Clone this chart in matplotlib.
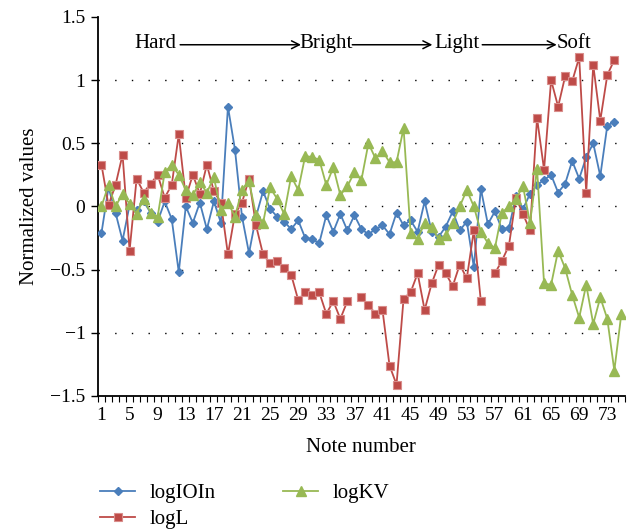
import numpy as np
import matplotlib
matplotlib.use("Agg")
import matplotlib.pyplot as plt
from matplotlib.ticker import FixedLocator, FuncFormatter

plt.rcParams['font.family'] = ['Liberation Serif', 'DejaVu Serif']
plt.rcParams['mathtext.fontset'] = 'stix'

nan = np.nan

# values (note numbers 1..75)
log_ioi = [-0.21, 0.15, -0.05, -0.27, 0.01, -0.03, 0.04, -0.05, -0.12, 0.04,
           -0.10, -0.52, 0.00, -0.13, 0.03, -0.18, 0.04, -0.13, 0.79, 0.45,
           -0.08, -0.37, -0.08, 0.12, -0.02, -0.08, -0.12, -0.18, -0.11, -0.25,
           -0.26, -0.29, -0.07, -0.20, -0.06, -0.19, -0.07, -0.18, -0.22, -0.18,
           -0.15, -0.22, -0.05, -0.15, -0.11, -0.20, 0.04, -0.20, -0.24, -0.16,
           -0.04, -0.19, -0.12, -0.48, 0.14, -0.14, -0.04, -0.18, -0.17, 0.08,
           -0.02, 0.10, 0.17, 0.21, 0.25, 0.11, 0.18, 0.36, 0.22, 0.39,
           0.50, 0.24, 0.64, 0.67]

log_l = [0.33, 0.01, 0.17, 0.41, -0.35, 0.22, 0.11, 0.18, 0.25, 0.07,
         0.17, 0.57, 0.07, 0.25, 0.10, 0.33, 0.12, 0.03, -0.38, -0.06,
         0.03, 0.22, -0.15, -0.38, -0.45, -0.43, -0.49, -0.54, -0.74, -0.68,
         -0.70, -0.68, -0.85, -0.75, -0.89, -0.75, nan, -0.72, -0.78, -0.85,
         -0.82, -1.26, -1.41, -0.73, -0.68, -0.53, -0.82, -0.61, -0.46, -0.53,
         -0.63, -0.46, -0.57, -0.19, -0.75, nan, -0.53, -0.43, -0.31, 0.07,
         -0.06, -0.19, 0.70, 0.29, 1.00, 0.79, 1.03, 0.99, 1.18, 0.11,
         1.12, 0.68, 1.04, 1.16]

log_kv = [0.00, 0.17, 0.00, 0.10, 0.02, -0.06, 0.06, -0.05, -0.08, 0.27,
          0.33, 0.25, 0.13, 0.09, 0.19, 0.11, 0.23, -0.03, 0.03, -0.08,
          0.13, 0.20, -0.07, -0.13, 0.15, 0.06, -0.06, 0.24, 0.13, 0.40,
          0.39, 0.37, 0.17, 0.31, 0.09, 0.16, 0.27, 0.21, 0.50, 0.38,
          0.44, 0.35, 0.35, 0.62, -0.21, -0.26, -0.13, -0.16, -0.26, -0.23,
          -0.13, 0.00, 0.13, 0.00, -0.20, -0.29, -0.33, -0.05, 0.00, 0.06,
          0.16, -0.13, 0.30, -0.61, -0.62, -0.35, -0.49, -0.70, -0.88, -0.62,
          -0.93, -0.72, -0.89, -1.30, -0.85]

stages = ["Hard", "Bright", "Light", "Soft"]
y_ticks = [-1.5, -1, -0.5, 0, 0.5, 1, 1.5]

blue = '#4A7EBB'
red = '#BE4B48'
green = '#98B954'

fig = plt.figure(figsize=(6.28, 5.30), dpi=100)
ax = fig.add_axes([0.156, 0.253, 0.839, 0.715])

x_ioi = np.arange(1, len(log_ioi) + 1)
x_l = np.arange(1, len(log_l) + 1)
x_kv = np.arange(1, len(log_kv) + 1)

ax.plot(x_ioi, log_ioi, color=blue, lw=1.3, marker='D', ms=4,
        mfc=blue, mec=blue, label='logIOIn', zorder=3)
ax.plot(x_l, log_l, color=red, lw=1.3, marker='s', ms=6,
        mfc=red, mec='#D98D8B', mew=0.8, label='logL', zorder=3)
ax.plot(x_kv, log_kv, color=green, lw=1.3, marker='^', ms=6.5,
        mfc=green, mec=green, label='logKV', zorder=3)

# dotted gridlines
for yv in [-1, -0.5, 0, 0.5, 1]:
    ax.axhline(yv, color='black', lw=1, ls=(0, (1, 11)), zorder=1)

n = len(log_kv)
ax.set_xlim(0.5, n + 0.5)
ax.set_ylim(-1.5, 1.5)

ax.xaxis.set_major_locator(FixedLocator(np.arange(1, n + 1, 4)))
ax.xaxis.set_minor_locator(FixedLocator(np.arange(0.5, n + 1, 1)))
ax.tick_params(axis='x', which='major', length=0, pad=8, labelsize=14)
ax.tick_params(axis='x', which='minor', length=4, width=0.8, direction='out')
ax.yaxis.set_major_locator(FixedLocator(y_ticks))
ax.yaxis.set_major_formatter(FuncFormatter(lambda v, p: f'{v:g}'.replace('-', '\u2212')))
ax.tick_params(axis='y', length=5, width=1, direction='out', labelsize=14, pad=4)

for s in ['top', 'right']:
    ax.spines[s].set_visible(False)
for s in ['left', 'bottom']:
    ax.spines[s].set_linewidth(1.3)

ax.set_xlabel('Note number', fontsize=15, labelpad=10)
ax.set_ylabel('Normalized values', fontsize=15, labelpad=8)

# stage annotations with arrows
stage_x = [8.7, 33.0, 51.6, 68.3]
ytxt = 1.29
for i, name in enumerate(stages):
    ax.text(stage_x[i], ytxt, name, ha='center', va='center', fontsize=15)
arrow_spans = [(12.2, 29.4), (36.7, 48.1), (55.2, 65.8)]
for x0, x1 in arrow_spans:
    ax.annotate('', xy=(x1, ytxt - 0.01), xytext=(x0, ytxt - 0.01),
                arrowprops=dict(arrowstyle='->', color='black', lw=1.1,
                                shrinkA=0, shrinkB=0, mutation_scale=14))

fig.legend(loc='upper left', bbox_to_anchor=(0.146, 0.103), ncol=2,
           frameon=False, fontsize=15, handlelength=1.7, handletextpad=0.7,
           columnspacing=3.2, labelspacing=0.3, borderaxespad=0)

fig.savefig('out.png', dpi=100)
